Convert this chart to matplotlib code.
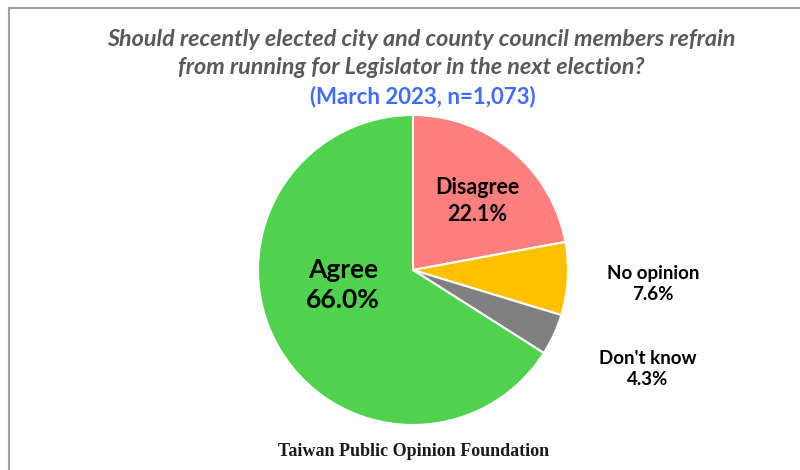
import matplotlib.pyplot as plt
from matplotlib.lines import Line2D

# survey result, clockwise from 12 o'clock
labels = ["Disagree", "No opinion", "Don't know", "Agree"]
shares = [22.1, 7.6, 4.3, 66.0]
colors = ["#FF7F7F", "#FFC000", "#808080", "#4FD34F"]

title_lines = ["Should recently elected city and county council members refrain",
               "from running for Legislator in the next election?"]
subtitle = "(March 2023, n=1,073)"
source = "Taiwan Public Opinion Foundation"

SANS = ["Lato", "DejaVu Sans"]

fig = plt.figure(figsize=(8, 4.7), dpi=100)

# frame (only top and left edges visible in the original crop)
fig.add_artist(Line2D([0.011, 1.0], [0.984, 0.984], color="#A0A0A0", lw=1.5,
                      transform=fig.transFigure))
fig.add_artist(Line2D([0.011, 0.011], [0.0, 0.984], color="#A0A0A0", lw=1.5,
                      transform=fig.transFigure))

# pie: centre ~ (413, 270) px, radius ~155 px
r_px = 155
ax = fig.add_axes([(413 - r_px) / 800, (470 - 270 - r_px) / 470,
                   2 * r_px / 800, 2 * r_px / 470])
ax.pie(shares, colors=colors, startangle=90, counterclock=False,
       wedgeprops=dict(edgecolor="white", linewidth=1.5))
ax.set_aspect("equal")
ax.set_xlim(-1, 1)
ax.set_ylim(-1, 1)
ax.axis("off")


def px(x, y):
    # pixel position -> pie data coords
    return (x - 413) / r_px, (270 - y) / r_px


label_pos = {
    "Disagree": (px(477, 201), 15.5),
    "Agree": (px(343, 285), 19),
    "No opinion": (px(653, 284), 13.5),
    "Don't know": (px(648, 369), 13.5),
}
for name, val in zip(labels, shares):
    (x, y), fs = label_pos[name]
    ax.text(x, y, f"{name}\n{val:.1f}%", ha="center", va="center",
            fontsize=fs, fontweight="bold", family=SANS, color="black",
            linespacing=1.3, clip_on=False)

fig.text(421 / 800, 1 - 40 / 470, title_lines[0], ha="center", va="center",
         fontsize=16.8, fontweight="bold", style="italic", family=SANS,
         color="#595959")
fig.text(411 / 800, 1 - 68 / 470, title_lines[1], ha="center", va="center",
         fontsize=16.8, fontweight="bold", style="italic", family=SANS,
         color="#595959")
fig.text(423 / 800, 1 - 97 / 470, subtitle, ha="center", va="center",
         fontsize=16, fontweight="bold", family=SANS, color="#3F6BFF")

fig.text(414 / 800, 1 - 451 / 470, source, ha="center", va="center",
         fontsize=13, fontweight="bold",
         family=["Liberation Serif", "DejaVu Serif"], color="#1A1A1A")

fig.savefig("out.png", dpi=100, facecolor="white")
